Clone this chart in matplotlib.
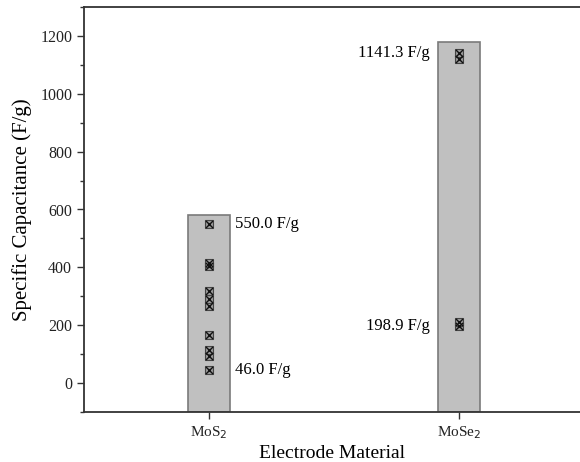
import matplotlib
matplotlib.use("Agg")
import matplotlib.pyplot as plt
from matplotlib.ticker import MultipleLocator

plt.rcParams['font.family'] = ['Liberation Serif', 'DejaVu Serif']

categories = ["MoS$_2$", "MoSe$_2$"]
bar_tops = [580, 1180]
mos2_values = [46.0, 95, 115, 165, 265, 290, 320, 405, 415, 550.0]
mose2_values = [198.9, 210, 1120, 1141.3]
labels_mos2 = ["550.0 F/g", "46.0 F/g"]
labels_mose2 = ["1141.3 F/g", "198.9 F/g"]
ymin, ymax = -100, 1300

fig = plt.figure(figsize=(5.8, 4.62), dpi=100)
ax = fig.add_axes([84/580, (462-412)/462, 1 - 84/580, (412-7)/462])

xs = [1, 2]
ax.bar(xs, [t - ymin for t in bar_tops], bottom=ymin, width=0.17,
       color='#c0c0c0', edgecolor='#7a7a7a', linewidth=1.2, zorder=2)

def draw_points(x, vals):
    xv = [x] * len(vals)
    ax.scatter(xv, vals, marker='s', s=36, facecolor='#9a9a9a', edgecolor='#444444',
               linewidths=0.8, zorder=3)
    ax.scatter(xv, vals, marker='x', s=26, color='#111111', linewidths=1.0, zorder=4)

draw_points(1, mos2_values)
draw_points(2, mose2_values)

fs_ann = 12
ax.text(1.105, 550, labels_mos2[0], fontsize=fs_ann, va='center', ha='left')
ax.text(1.105, 46, labels_mos2[1], fontsize=fs_ann, va='center', ha='left')
ax.text(1.885, 1141.3, labels_mose2[0], fontsize=fs_ann, va='center', ha='right')
ax.text(1.885, 198.9, labels_mose2[1], fontsize=fs_ann, va='center', ha='right')

ax.set_xlim(0.5, 2.484)
ax.set_ylim(ymin, ymax)
ax.set_xticks(xs)
ax.set_xticklabels(categories, fontsize=11)
ax.set_yticks([0, 200, 400, 600, 800, 1000, 1200])
ax.yaxis.set_minor_locator(MultipleLocator(100))
ax.tick_params(axis='y', which='major', direction='out', length=5, width=1, labelsize=11.5, colors='#333333', labelcolor='#222222')
ax.tick_params(axis='y', which='minor', direction='out', length=3, width=1, colors='#333333')
ax.tick_params(axis='x', which='major', direction='out', length=5, width=1, labelsize=11, colors='#333333', labelcolor='#222222')

for s in ['left', 'bottom', 'top']:
    ax.spines[s].set_linewidth(1.3)
    ax.spines[s].set_color('#333333')
ax.spines['right'].set_visible(False)

ax.set_ylabel("Specific Capacitance (F/g)", fontsize=15, labelpad=6)
ax.set_xlabel("Electrode Material", fontsize=14, labelpad=3)

fig.savefig("out.png", dpi=100)
